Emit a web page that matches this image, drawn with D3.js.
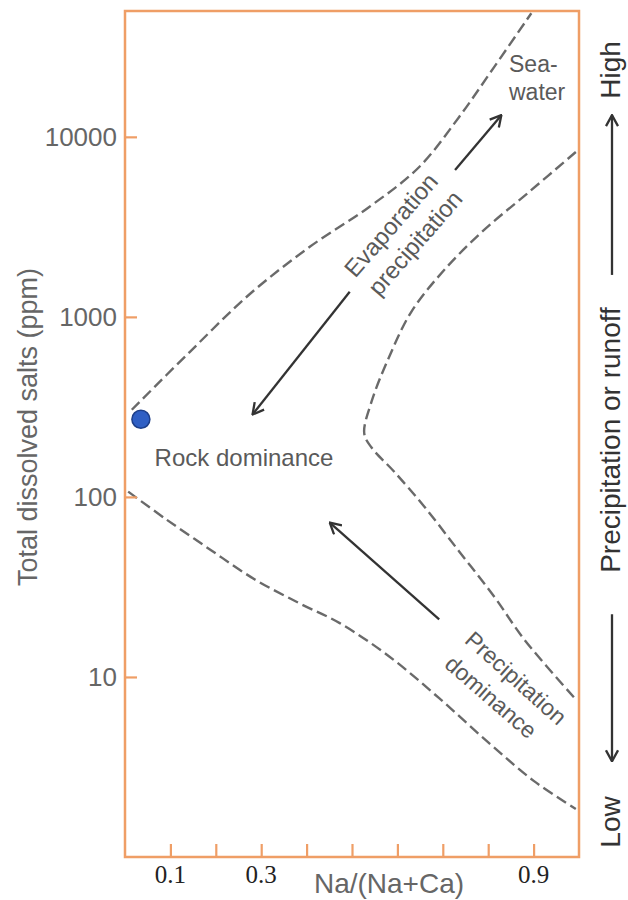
<!DOCTYPE html>
<html><head><meta charset="utf-8">
<script src="https://cdn.jsdelivr.net/npm/d3@7"></script>
<style>body{margin:0;background:#fff}svg{display:block}</style>
</head><body>
<svg id="chart" width="628" height="900"></svg>
<script>
// ---- data ----
const xTicks = [0.1, 0.2, 0.3, 0.4, 0.5, 0.6, 0.7, 0.8, 0.9];
const xTickLabels = ["0.1", "", "0.3", "", "", "", "", "", "0.9"];
const yTicks = [10, 100, 1000, 10000];
const yTickLabels = ["10", "100", "1000", "10000"];

// boundary curves: [Na/(Na+Ca), TDS ppm]
const upperBoundary = [[0.015,305],[0.143,640],[0.275,1340],[0.407,2450],[0.538,4080],[0.648,6800],[0.736,12900],[0.813,24400],[0.895,48600]];
const innerBoundary = [[0.993,8240],[0.890,4940],[0.791,3040],[0.703,1820],[0.631,1070],[0.582,601],[0.543,338],[0.527,225],[0.543,188],[0.593,138],[0.659,88.5],[0.736,49.8],[0.813,28],[0.879,16.2],[0.991,7.6]];
const lowerBoundary = [[0.007,107],[0.088,75.9],[0.187,51.1],[0.286,34.8],[0.385,25.6],[0.473,19.9],[0.582,13.0],[0.692,7.62],[0.802,4.29],[0.901,2.64],[0.993,1.85]];

const samplePoints = [[0.035,270]];

const arrows = [
  {from:[0.727,6550], to:[0.829,13200]},
  {from:[0.495,1380], to:[0.281,287]},
  {from:[0.692,20.9], to:[0.451,72]}
];
const sideArrows = [
  {from:1710, to:13200},
  {from:22.3, to:3.4}
];

// ---- layout ----
const W = 628, H = 900;
const m = {left:125, right:49, top:11, bottom:43};
const svg = d3.select("#chart");
const x = d3.scaleLinear().domain([0,1]).range([m.left, W - m.right]);
const y = d3.scaleLog().domain([1, 50000]).range([H - m.bottom, m.top]);

const orange = "#ef9e66";
const font = "Arial, 'Liberation Sans', Helvetica, sans-serif";

const defs = svg.append("defs");
defs.append("marker").attr("id","head")
  .attr("viewBox","0 0 14 14").attr("refX",13).attr("refY",7)
  .attr("markerWidth",14).attr("markerHeight",14)
  .attr("markerUnits","userSpaceOnUse").attr("orient","auto")
  .append("path").attr("d","M2,1 L13,7 L2,13")
  .attr("fill","none").attr("stroke","#333").attr("stroke-width",2.3);

// curves
const line = d3.line().x(d => x(d[0])).y(d => y(d[1])).curve(d3.curveCatmullRom.alpha(0.5));
svg.append("g").selectAll("path").data([upperBoundary, innerBoundary, lowerBoundary]).join("path")
  .attr("d", line).attr("fill","none").attr("stroke","#6a6a6a")
  .attr("stroke-width",2.4).attr("stroke-dasharray","11,5");

// frame
svg.append("rect").attr("x", x(0)).attr("y", y(50000))
  .attr("width", x(1) - x(0)).attr("height", y(1) - y(50000))
  .attr("fill","none").attr("stroke", orange).attr("stroke-width",2.5);

// x axis (inward ticks)
const xAxis = d3.axisTop(x).tickValues(xTicks).tickSize(13).tickFormat("");
const gx = svg.append("g").attr("transform",`translate(0,${y(1)})`).call(xAxis);
gx.select(".domain").remove();
gx.selectAll(".tick line").attr("stroke", orange).attr("stroke-width",2.2);
svg.append("g").selectAll("text").data(xTicks).join("text")
  .attr("x", d => x(d)).attr("y", 883).attr("text-anchor","middle")
  .attr("font-family","'Liberation Serif', 'Times New Roman', serif").attr("font-size",25)
  .attr("fill","#222").text((d,i) => xTickLabels[i]);

// y axis (inward ticks)
const yAxis = d3.axisRight(y).tickValues(yTicks).tickSize(12).tickFormat("");
const gy = svg.append("g").attr("transform",`translate(${x(0)},0)`).call(yAxis);
gy.select(".domain").remove();
gy.selectAll(".tick line").attr("stroke", orange).attr("stroke-width",2.2);
svg.append("g").selectAll("text").data(yTicks).join("text")
  .attr("x", 117).attr("y", d => y(d)).attr("dy","0.36em").attr("text-anchor","end")
  .attr("font-family", font).attr("font-size",26).attr("fill","#666")
  .text((d,i) => yTickLabels[i]);

// axis titles
svg.append("text").attr("transform","translate(37,427) rotate(-90)")
  .attr("text-anchor","middle").attr("font-family",font).attr("font-size",27)
  .attr("fill","#666").text("Total dissolved salts (ppm)");
svg.append("text").attr("x",389).attr("y",893).attr("text-anchor","middle")
  .attr("font-family",font).attr("font-size",28).attr("fill","#666").text("Na/(Na+Ca)");

// arrows in plot
svg.append("g").selectAll("line").data(arrows).join("line")
  .attr("x1", d => x(d.from[0])).attr("y1", d => y(d.from[1]))
  .attr("x2", d => x(d.to[0])).attr("y2", d => y(d.to[1]))
  .attr("stroke","#333").attr("stroke-width",2.3).attr("marker-end","url(#head)");

// side arrows
svg.append("g").selectAll("line").data(sideArrows).join("line")
  .attr("x1",612).attr("x2",612).attr("y1", d => y(d.from)).attr("y2", d => y(d.to))
  .attr("stroke","#333").attr("stroke-width",2.3).attr("marker-end","url(#head)");

// side texts
const side = [["High",70],["Precipitation or runoff",440],["Low",822]];
svg.append("g").selectAll("text").data(side).join("text")
  .attr("transform", d => `translate(620,${d[1]}) rotate(-90)`)
  .attr("text-anchor","middle").attr("font-family",font).attr("font-size",28)
  .attr("fill","#333").text(d => d[0]);

// sample point
svg.append("g").selectAll("circle").data(samplePoints).join("circle")
  .attr("cx", d => x(d[0])).attr("cy", d => y(d[1])).attr("r",9)
  .attr("fill","#2f5fc4").attr("stroke","#1d3f8a").attr("stroke-width",1.5);

// annotations
const ann = svg.append("g").attr("font-family",font).attr("fill","#5a5a5a");
ann.append("text").attr("x",244).attr("y",466).attr("text-anchor","middle")
  .attr("font-size",24).text("Rock dominance");
ann.append("text").attr("x",509).attr("y",72).attr("font-size",23).text("Sea-");
ann.append("text").attr("x",509).attr("y",100).attr("font-size",23).text("water");
ann.append("text").attr("transform","translate(391,225) rotate(-49)")
  .attr("text-anchor","middle").attr("dy","0.35em").attr("font-size",24).text("Evaporation");
ann.append("text").attr("transform","translate(415,243) rotate(-49)")
  .attr("text-anchor","middle").attr("dy","0.35em").attr("font-size",24).text("precipitation");
ann.append("text").attr("transform","translate(516,678) rotate(42)")
  .attr("text-anchor","middle").attr("dy","0.35em").attr("font-size",23).text("Precipitation");
ann.append("text").attr("transform","translate(491,697) rotate(41)")
  .attr("text-anchor","middle").attr("dy","0.35em").attr("font-size",23).text("dominance");
</script>
</body></html>
